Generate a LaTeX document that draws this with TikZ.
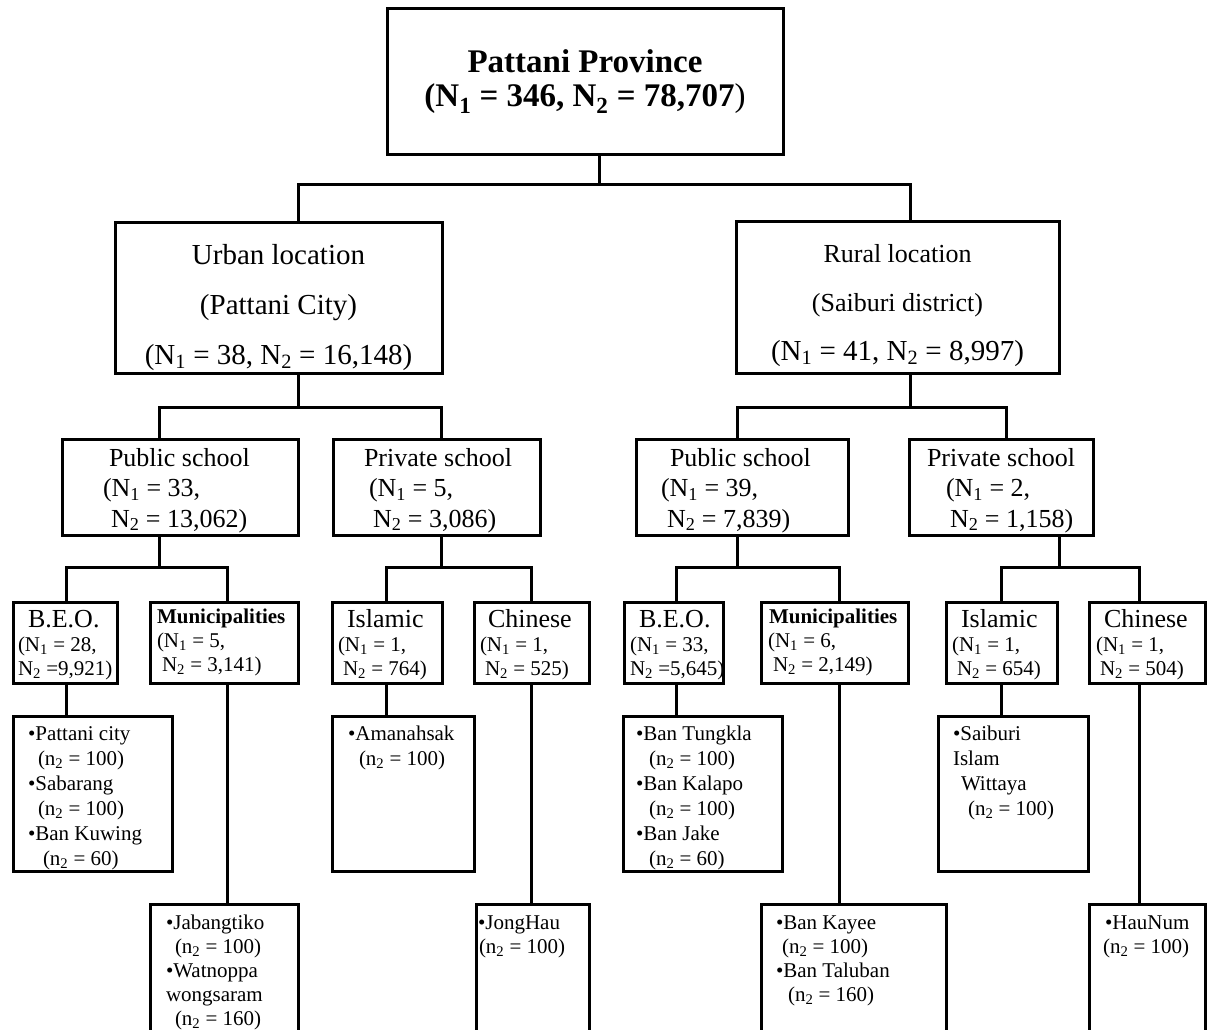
\documentclass[tikz,border=0pt]{standalone}
\usepackage{fontspec}
\setmainfont{Liberation Serif}
\newcommand{\NNa}{N\textsubscript{1}}
\newcommand{\NNb}{N\textsubscript{2}}
\newcommand{\nnb}{n\textsubscript{2}}
\newcommand{\ind}[1]{\hspace*{#1pt}}
\tikzset{
  box/.style={draw, line width=3pt, inner sep=0pt, outer sep=0pt, anchor=north west},
  conn/.style={line width=3pt},
  txt/.style={inner sep=0pt, outer sep=0pt, anchor=base west},
  ctxt/.style={inner sep=0pt, outer sep=0pt, anchor=base},
}
\begin{document}
\begin{tikzpicture}[x=1pt,y=-1pt]
\useasboundingbox (0,0) rectangle (1207,1030);
\clip (0,0) rectangle (1207,1030);
\fill[white] (0,0) rectangle (1207,1030);

% ---------- boxes ----------
\node[box, minimum width=396pt, minimum height=145pt] (top) at (387,9) {};
\node[box, minimum width=327pt, minimum height=151pt] (urban) at (115,222) {};
\node[box, minimum width=323pt, minimum height=152pt] (rural) at (736,221) {};

\node[box, minimum width=236pt, minimum height=96pt] (upub) at (62,439) {};
\node[box, minimum width=207pt, minimum height=96pt] (upriv) at (333,439) {};
\node[box, minimum width=212pt, minimum height=96pt] (rpub) at (636,439) {};
\node[box, minimum width=184pt, minimum height=96pt] (rpriv) at (909,439) {};

\node[box, minimum width=104pt, minimum height=81pt] (ubeo) at (13,602) {};
\node[box, minimum width=148pt, minimum height=81pt] (umun) at (150,602) {};
\node[box, minimum width=110pt, minimum height=81pt] (uisl) at (332,602) {};
\node[box, minimum width=115pt, minimum height=81pt] (uchi) at (474,602) {};
\node[box, minimum width=99pt, minimum height=81pt] (rbeo) at (624,602) {};
\node[box, minimum width=147pt, minimum height=81pt] (rmun) at (761,602) {};
\node[box, minimum width=111pt, minimum height=81pt] (risl) at (946,602) {};
\node[box, minimum width=116pt, minimum height=81pt] (rchi) at (1089,602) {};

\node[box, minimum width=159pt, minimum height=155pt] (ubeol) at (13,716) {};
\node[box, minimum width=142pt, minimum height=155pt] (uisll) at (332,716) {};
\node[box, minimum width=159pt, minimum height=155pt] (rbeol) at (623,716) {};
\node[box, minimum width=150pt, minimum height=155pt] (risll) at (938,716) {};

\node[box, minimum width=148pt, minimum height=140pt] (jab) at (150,904) {};
\node[box, minimum width=113pt, minimum height=140pt] (jong) at (476,904) {};
\node[box, minimum width=185pt, minimum height=140pt] (kay) at (761,904) {};
\node[box, minimum width=116pt, minimum height=140pt] (hau) at (1089,904) {};

% ---------- connectors ----------
\coordinate (c0) at (599,184);
\coordinate (cU) at (298,184);
\coordinate (cR) at (910,184);
\draw[conn] (top.south -| c0) -- (c0);
\draw[conn] (urban.north -| cU) -- (cU) -- (cR) -- (rural.north -| cR);

\coordinate (u0) at (298,407);
\coordinate (u1) at (159,407);
\coordinate (u2) at (441,407);
\draw[conn] (urban.south -| u0) -- (u0);
\draw[conn] (upub.north -| u1) -- (u1) -- (u2) -- (upriv.north -| u2);

\coordinate (r0) at (910,407);
\coordinate (r1) at (737,407);
\coordinate (r2) at (1006,407);
\draw[conn] (rural.south -| r0) -- (r0);
\draw[conn] (rpub.north -| r1) -- (r1) -- (r2) -- (rpriv.north -| r2);

\coordinate (a0) at (159,567);
\coordinate (a1) at (66,567);
\coordinate (a2) at (227,567);
\draw[conn] (upub.south -| a0) -- (a0);
\draw[conn] (ubeo.north -| a1) -- (a1) -- (a2) -- (umun.north -| a2);

\coordinate (b0) at (441,567);
\coordinate (b1) at (386,567);
\coordinate (b2) at (531,567);
\draw[conn] (upriv.south -| b0) -- (b0);
\draw[conn] (uisl.north -| b1) -- (b1) -- (b2) -- (uchi.north -| b2);

\coordinate (d0) at (737,567);
\coordinate (d1) at (676,567);
\coordinate (d2) at (839,567);
\draw[conn] (rpub.south -| d0) -- (d0);
\draw[conn] (rbeo.north -| d1) -- (d1) -- (d2) -- (rmun.north -| d2);

\coordinate (e0) at (1059,567);
\coordinate (e1) at (1001,567);
\coordinate (e2) at (1139,567);
\draw[conn] (rpriv.south -| e0) -- (e0);
\draw[conn] (risl.north -| e1) -- (e1) -- (e2) -- (rchi.north -| e2);

\draw[conn] (ubeo.south -| a1) -- (ubeol.north -| a1);
\draw[conn] (umun.south -| a2) -- (jab.north -| a2);
\draw[conn] (uisl.south -| b1) -- (uisll.north -| b1);
\draw[conn] (uchi.south -| b2) -- (jong.north -| b2);
\draw[conn] (rbeo.south -| d1) -- (rbeol.north -| d1);
\draw[conn] (rmun.south -| d2) -- (kay.north -| d2);
\draw[conn] (risl.south -| e1) -- (risll.north -| e1);
\draw[conn] (rchi.south -| e2) -- (hau.north -| e2);

% ---------- texts ----------
\node[ctxt, font=\fontsize{33}{34}\selectfont\bfseries] (ttop) at (585,73)
  {\begin{tabular}[t]{@{}c@{}}Pattani Province\\(\NNa{} = 346, \NNb{} = 78,707{\mdseries)}\end{tabular}};

\node[ctxt, font=\fontsize{29}{50}\selectfont] (turban) at (278.5,264)
  {\begin{tabular}[t]{@{}c@{}}Urban location\\(Pattani City)\\(\NNa{} = 38, \NNb{} = 16,148)\end{tabular}};
\node[ctxt, font=\fontsize{26}{49}\selectfont] (trural) at (897.5,262)
  {\begin{tabular}[t]{@{}c@{}}Rural location\\(Saiburi district)\\{\fontsize{29}{49}\selectfont(\NNa{} = 41, \NNb{} = 8,997)}\end{tabular}};

\node[txt, font=\fontsize{26}{30.5}\selectfont] (tupub) at (103,466)
  {\begin{tabular}[t]{@{}l@{}}\ind{6}Public school\\(\NNa{} = 33,\\\ind{8}\NNb{} = 13,062)\end{tabular}};
\node[txt, font=\fontsize{26}{30.5}\selectfont] (tupriv) at (364,466)
  {\begin{tabular}[t]{@{}l@{}}Private school\\\ind{5}(\NNa{} = 5,\\\ind{9}\NNb{} = 3,086)\end{tabular}};
\node[txt, font=\fontsize{26}{30.5}\selectfont] (trpub) at (661,466)
  {\begin{tabular}[t]{@{}l@{}}\ind{9}Public school\\(\NNa{} = 39,\\\ind{6}\NNb{} = 7,839)\end{tabular}};
\node[txt, font=\fontsize{26}{30.5}\selectfont] (trpriv) at (927,466)
  {\begin{tabular}[t]{@{}l@{}}Private school\\\ind{19}(\NNa{} = 2,\\\ind{23}\NNb{} = 1,158)\end{tabular}};

\node[txt, font=\fontsize{21}{24}\selectfont] (tubeo) at (18,627)
  {\begin{tabular}[t]{@{}l@{}}\ind{10}{\fontsize{26}{24}\selectfont B.E.O.}\\(\NNa{} = 28,\\\NNb{} =9,921)\end{tabular}};
\node[txt, font=\fontsize{21}{24}\selectfont] (tumun) at (157,623)
  {\begin{tabular}[t]{@{}l@{}}\textbf{Municipalities}\\(\NNa{} = 5,\\\ind{5}\NNb{} = 3,141)\end{tabular}};
\node[txt, font=\fontsize{21}{24}\selectfont] (tuisl) at (338,627)
  {\begin{tabular}[t]{@{}l@{}}\ind{9}{\fontsize{26}{24}\selectfont Islamic}\\(\NNa{} = 1,\\\ind{5}\NNb{} = 764)\end{tabular}};
\node[txt, font=\fontsize{21}{24}\selectfont] (tuchi) at (480,627)
  {\begin{tabular}[t]{@{}l@{}}\ind{8}{\fontsize{26}{24}\selectfont Chinese}\\(\NNa{} = 1,\\\ind{5}\NNb{} = 525)\end{tabular}};
\node[txt, font=\fontsize{21}{24}\selectfont] (trbeo) at (630,627)
  {\begin{tabular}[t]{@{}l@{}}\ind{9}{\fontsize{26}{24}\selectfont B.E.O.}\\(\NNa{} = 33,\\\NNb{} =5,645)\end{tabular}};
\node[txt, font=\fontsize{21}{24}\selectfont] (trmun) at (768,623)
  {\begin{tabular}[t]{@{}l@{}}\ind{1}\textbf{Municipalities}\\(\NNa{} = 6,\\\ind{5}\NNb{} = 2,149)\end{tabular}};
\node[txt, font=\fontsize{21}{24}\selectfont] (trisl) at (952,627)
  {\begin{tabular}[t]{@{}l@{}}\ind{9}{\fontsize{26}{24}\selectfont Islamic}\\(\NNa{} = 1,\\\ind{5}\NNb{} = 654)\end{tabular}};
\node[txt, font=\fontsize{21}{24}\selectfont] (trchi) at (1096,627)
  {\begin{tabular}[t]{@{}l@{}}\ind{8}{\fontsize{26}{24}\selectfont Chinese}\\(\NNa{} = 1,\\\ind{4}\NNb{} = 504)\end{tabular}};

\node[txt, font=\fontsize{21}{25}\selectfont] (tubeol) at (28,740)
  {\begin{tabular}[t]{@{}l@{}}•Pattani city\\\ind{10}(\nnb{} = 100)\\•Sabarang\\\ind{10}(\nnb{} = 100)\\•Ban Kuwing\\\ind{15}(\nnb{} = 60)\end{tabular}};
\node[txt, font=\fontsize{21}{25}\selectfont] (tuisll) at (348,740)
  {\begin{tabular}[t]{@{}l@{}}•Amanahsak\\\ind{11}(\nnb{} = 100)\end{tabular}};
\node[txt, font=\fontsize{21}{25}\selectfont] (trbeol) at (636,740)
  {\begin{tabular}[t]{@{}l@{}}•Ban Tungkla\\\ind{13}(\nnb{} = 100)\\•Ban Kalapo\\\ind{13}(\nnb{} = 100)\\•Ban Jake\\\ind{13}(\nnb{} = 60)\end{tabular}};
\node[txt, font=\fontsize{21}{25}\selectfont] (trisll) at (953,740)
  {\begin{tabular}[t]{@{}l@{}}•Saiburi\\Islam\\\ind{8}Wittaya\\\ind{15}(\nnb{} = 100)\end{tabular}};

\node[txt, font=\fontsize{21}{24}\selectfont] (tjab) at (166,929)
  {\begin{tabular}[t]{@{}l@{}}•Jabangtiko\\\ind{9}(\nnb{} = 100)\\•Watnoppa\\wongsaram\\\ind{9}(\nnb{} = 160)\end{tabular}};
\node[txt, font=\fontsize{21}{24}\selectfont] (tjong) at (478,929)
  {\begin{tabular}[t]{@{}l@{}}•JongHau\\\ind{1}(\nnb{} = 100)\end{tabular}};
\node[txt, font=\fontsize{21}{24}\selectfont] (tkay) at (776,929)
  {\begin{tabular}[t]{@{}l@{}}•Ban Kayee\\\ind{6}(\nnb{} = 100)\\•Ban Taluban\\\ind{12}(\nnb{} = 160)\end{tabular}};
\node[txt, font=\fontsize{21}{24}\selectfont] (thau) at (1103,929)
  {\begin{tabular}[t]{@{}l@{}}\ind{2}•HauNum\\(\nnb{} = 100)\end{tabular}};
\end{tikzpicture}
\end{document}
